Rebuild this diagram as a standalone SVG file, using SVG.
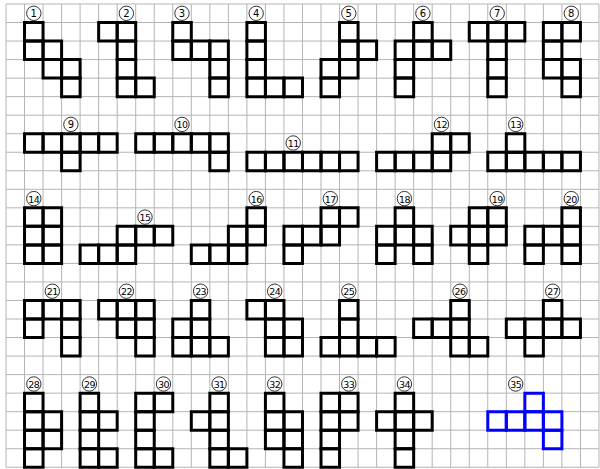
<svg xmlns="http://www.w3.org/2000/svg" xmlns:xlink="http://www.w3.org/1999/xlink" width="600" height="469" viewBox="0 0 600 469">
<style>
.grid{fill:none;stroke:#b4b4b4;stroke-width:1;vector-effect:non-scaling-stroke}
.c rect{fill:none;stroke:#000;stroke-width:3;vector-effect:non-scaling-stroke}
.blue rect{stroke:#0000ff}
.lc{fill:#fff;stroke:#000;stroke-width:0.8}
.lt{font-family:"DejaVu Sans",Verdana,sans-serif;font-size:10px;text-anchor:middle;dominant-baseline:central;fill:#000}
.lt2{font-size:9.5px;letter-spacing:-0.6px}
</style>
<rect x="0" y="0" width="600" height="469" fill="#fff"/>
<g transform="translate(6,4) scale(18.53)">
<path class="grid" d="M0 0v25M1 0v25M2 0v25M3 0v25M4 0v25M5 0v25M6 0v25M7 0v25M8 0v25M9 0v25M10 0v25M11 0v25M12 0v25M13 0v25M14 0v25M15 0v25M16 0v25M17 0v25M18 0v25M19 0v25M20 0v25M21 0v25M22 0v25M23 0v25M24 0v25M25 0v25M26 0v25M27 0v25M28 0v25M29 0v25M30 0v25M31 0v25M32 0v25M0 0h32M0 1h32M0 2h32M0 3h32M0 4h32M0 5h32M0 6h32M0 7h32M0 8h32M0 9h32M0 10h32M0 11h32M0 12h32M0 13h32M0 14h32M0 15h32M0 16h32M0 17h32M0 18h32M0 19h32M0 20h32M0 21h32M0 22h32M0 23h32M0 24h32M0 25h32"/>
</g>
<defs><rect id="s" width="1" height="1"/></defs>

<g id="p1"><g class="c" transform="translate(6,4) scale(18.53)"><rect x="1" y="1" width="1" height="1"/><rect x="1" y="2" width="1" height="1"/><rect x="2" y="2" width="1" height="1"/><rect x="2" y="3" width="1" height="1"/><rect x="3" y="3" width="1" height="1"/><rect x="3" y="4" width="1" height="1"/></g><circle class="lc" cx="33.8" cy="13.3" r="7.2"/><text class="lt" x="33.8" y="13.8">1</text></g>
<g id="p2"><g class="c" transform="translate(6,4) scale(18.53)"><rect x="5" y="1" width="1" height="1"/><rect x="6" y="1" width="1" height="1"/><rect x="6" y="2" width="1" height="1"/><rect x="6" y="3" width="1" height="1"/><rect x="6" y="4" width="1" height="1"/><rect x="7" y="4" width="1" height="1"/></g><circle class="lc" cx="126.4" cy="13.3" r="7.2"/><text class="lt" x="126.4" y="13.8">2</text></g>
<g id="p3"><g class="c" transform="translate(6,4) scale(18.53)"><rect x="9" y="1" width="1" height="1"/><rect x="9" y="2" width="1" height="1"/><rect x="10" y="2" width="1" height="1"/><rect x="11" y="2" width="1" height="1"/><rect x="11" y="3" width="1" height="1"/><rect x="11" y="4" width="1" height="1"/></g><circle class="lc" cx="182" cy="13.3" r="7.2"/><text class="lt" x="182" y="13.8">3</text></g>
<g id="p4"><g class="c" transform="translate(6,4) scale(18.53)"><rect x="13" y="1" width="1" height="1"/><rect x="13" y="2" width="1" height="1"/><rect x="13" y="3" width="1" height="1"/><rect x="13" y="4" width="1" height="1"/><rect x="14" y="4" width="1" height="1"/><rect x="15" y="4" width="1" height="1"/></g><circle class="lc" cx="256.2" cy="13.3" r="7.2"/><text class="lt" x="256.2" y="13.8">4</text></g>
<g id="p5"><g class="c" transform="translate(6,4) scale(18.53)"><rect x="18" y="1" width="1" height="1"/><rect x="18" y="2" width="1" height="1"/><rect x="19" y="2" width="1" height="1"/><rect x="17" y="3" width="1" height="1"/><rect x="18" y="3" width="1" height="1"/><rect x="17" y="4" width="1" height="1"/></g><circle class="lc" cx="348.8" cy="13.3" r="7.2"/><text class="lt" x="348.8" y="13.8">5</text></g>
<g id="p6"><g class="c" transform="translate(6,4) scale(18.53)"><rect x="22" y="1" width="1" height="1"/><rect x="21" y="2" width="1" height="1"/><rect x="22" y="2" width="1" height="1"/><rect x="23" y="2" width="1" height="1"/><rect x="21" y="3" width="1" height="1"/><rect x="21" y="4" width="1" height="1"/></g><circle class="lc" cx="422.9" cy="13.3" r="7.2"/><text class="lt" x="422.9" y="13.8">6</text></g>
<g id="p7"><g class="c" transform="translate(6,4) scale(18.53)"><rect x="25" y="1" width="1" height="1"/><rect x="26" y="1" width="1" height="1"/><rect x="27" y="1" width="1" height="1"/><rect x="26" y="2" width="1" height="1"/><rect x="26" y="3" width="1" height="1"/><rect x="26" y="4" width="1" height="1"/></g><circle class="lc" cx="497.2" cy="13.3" r="7.2"/><text class="lt" x="497.2" y="13.8">7</text></g>
<g id="p8"><g class="c" transform="translate(6,4) scale(18.53)"><rect x="29" y="1" width="1" height="1"/><rect x="30" y="1" width="1" height="1"/><rect x="29" y="2" width="1" height="1"/><rect x="29" y="3" width="1" height="1"/><rect x="30" y="3" width="1" height="1"/><rect x="30" y="4" width="1" height="1"/></g><circle class="lc" cx="571.3" cy="13.3" r="7.2"/><text class="lt" x="571.3" y="13.8">8</text></g>

<g id="p9"><g class="c" transform="translate(6,4) scale(18.53)"><rect x="1" y="7" width="1" height="1"/><rect x="2" y="7" width="1" height="1"/><rect x="3" y="7" width="1" height="1"/><rect x="4" y="7" width="1" height="1"/><rect x="5" y="7" width="1" height="1"/><rect x="3" y="8" width="1" height="1"/></g><circle class="lc" cx="70.9" cy="124.4" r="7.2"/><text class="lt" x="70.9" y="124.9">9</text></g>
<g id="p10"><g class="c" transform="translate(6,4) scale(18.53)"><rect x="7" y="7" width="1" height="1"/><rect x="8" y="7" width="1" height="1"/><rect x="9" y="7" width="1" height="1"/><rect x="10" y="7" width="1" height="1"/><rect x="11" y="7" width="1" height="1"/><rect x="11" y="8" width="1" height="1"/></g><circle class="lc" cx="182" cy="124.4" r="7.2"/><text class="lt lt2" x="182" y="124.9">10</text></g>
<g id="p11"><g class="c" transform="translate(6,4) scale(18.53)"><rect x="13" y="8" width="1" height="1"/><rect x="14" y="8" width="1" height="1"/><rect x="15" y="8" width="1" height="1"/><rect x="16" y="8" width="1" height="1"/><rect x="17" y="8" width="1" height="1"/><rect x="18" y="8" width="1" height="1"/></g><circle class="lc" cx="293.2" cy="143" r="7.2"/><text class="lt lt2" x="293.2" y="143.5">11</text></g>
<g id="p12"><g class="c" transform="translate(6,4) scale(18.53)"><rect x="23" y="7" width="1" height="1"/><rect x="24" y="7" width="1" height="1"/><rect x="20" y="8" width="1" height="1"/><rect x="21" y="8" width="1" height="1"/><rect x="22" y="8" width="1" height="1"/><rect x="23" y="8" width="1" height="1"/></g><circle class="lc" cx="441.5" cy="124.4" r="7.2"/><text class="lt lt2" x="441.5" y="124.9">12</text></g>
<g id="p13"><g class="c" transform="translate(6,4) scale(18.53)"><rect x="27" y="7" width="1" height="1"/><rect x="26" y="8" width="1" height="1"/><rect x="27" y="8" width="1" height="1"/><rect x="28" y="8" width="1" height="1"/><rect x="29" y="8" width="1" height="1"/><rect x="30" y="8" width="1" height="1"/></g><circle class="lc" cx="515.7" cy="124.4" r="7.2"/><text class="lt lt2" x="515.7" y="124.9">13</text></g>

<g id="p14"><g class="c" transform="translate(6,4) scale(18.53)"><rect x="1" y="11" width="1" height="1"/><rect x="2" y="11" width="1" height="1"/><rect x="1" y="12" width="1" height="1"/><rect x="2" y="12" width="1" height="1"/><rect x="1" y="13" width="1" height="1"/><rect x="2" y="13" width="1" height="1"/></g><circle class="lc" cx="33.8" cy="198.6" r="7.2"/><text class="lt lt2" x="33.8" y="199.1">14</text></g>
<g id="p15"><g class="c" transform="translate(6,4) scale(18.53)"><rect x="6" y="12" width="1" height="1"/><rect x="7" y="12" width="1" height="1"/><rect x="8" y="12" width="1" height="1"/><rect x="4" y="13" width="1" height="1"/><rect x="5" y="13" width="1" height="1"/><rect x="6" y="13" width="1" height="1"/></g><circle class="lc" cx="145" cy="217.1" r="7.2"/><text class="lt lt2" x="145" y="217.6">15</text></g>
<g id="p16"><g class="c" transform="translate(6,4) scale(18.53)"><rect x="13" y="11" width="1" height="1"/><rect x="12" y="12" width="1" height="1"/><rect x="13" y="12" width="1" height="1"/><rect x="10" y="13" width="1" height="1"/><rect x="11" y="13" width="1" height="1"/><rect x="12" y="13" width="1" height="1"/></g><circle class="lc" cx="256.2" cy="198.6" r="7.2"/><text class="lt lt2" x="256.2" y="199.1">16</text></g>
<g id="p17"><g class="c" transform="translate(6,4) scale(18.53)"><rect x="17" y="11" width="1" height="1"/><rect x="18" y="11" width="1" height="1"/><rect x="15" y="12" width="1" height="1"/><rect x="16" y="12" width="1" height="1"/><rect x="17" y="12" width="1" height="1"/><rect x="15" y="13" width="1" height="1"/></g><circle class="lc" cx="330.3" cy="198.6" r="7.2"/><text class="lt lt2" x="330.3" y="199.1">17</text></g>
<g id="p18"><g class="c" transform="translate(6,4) scale(18.53)"><rect x="21" y="11" width="1" height="1"/><rect x="20" y="12" width="1" height="1"/><rect x="21" y="12" width="1" height="1"/><rect x="22" y="12" width="1" height="1"/><rect x="20" y="13" width="1" height="1"/><rect x="22" y="13" width="1" height="1"/></g><circle class="lc" cx="404.4" cy="198.6" r="7.2"/><text class="lt lt2" x="404.4" y="199.1">18</text></g>
<g id="p19"><g class="c" transform="translate(6,4) scale(18.53)"><rect x="25" y="11" width="1" height="1"/><rect x="26" y="11" width="1" height="1"/><rect x="24" y="12" width="1" height="1"/><rect x="25" y="12" width="1" height="1"/><rect x="26" y="12" width="1" height="1"/><rect x="25" y="13" width="1" height="1"/></g><circle class="lc" cx="497.2" cy="198.6" r="7.2"/><text class="lt lt2" x="497.2" y="199.1">19</text></g>
<g id="p20"><g class="c" transform="translate(6,4) scale(18.53)"><rect x="30" y="11" width="1" height="1"/><rect x="28" y="12" width="1" height="1"/><rect x="29" y="12" width="1" height="1"/><rect x="30" y="12" width="1" height="1"/><rect x="28" y="13" width="1" height="1"/><rect x="30" y="13" width="1" height="1"/></g><circle class="lc" cx="571.3" cy="198.6" r="7.2"/><text class="lt lt2" x="571.3" y="199.1">20</text></g>

<g id="p21"><g class="c" transform="translate(6,4) scale(18.53)"><rect x="1" y="16" width="1" height="1"/><rect x="2" y="16" width="1" height="1"/><rect x="3" y="16" width="1" height="1"/><rect x="1" y="17" width="1" height="1"/><rect x="3" y="17" width="1" height="1"/><rect x="3" y="18" width="1" height="1"/></g><circle class="lc" cx="52.3" cy="291.2" r="7.2"/><text class="lt lt2" x="52.3" y="291.7">21</text></g>
<g id="p22"><g class="c" transform="translate(6,4) scale(18.53)"><rect x="5" y="16" width="1" height="1"/><rect x="6" y="16" width="1" height="1"/><rect x="7" y="16" width="1" height="1"/><rect x="6" y="17" width="1" height="1"/><rect x="7" y="17" width="1" height="1"/><rect x="7" y="18" width="1" height="1"/></g><circle class="lc" cx="126.4" cy="291.2" r="7.2"/><text class="lt lt2" x="126.4" y="291.7">22</text></g>
<g id="p23"><g class="c" transform="translate(6,4) scale(18.53)"><rect x="10" y="16" width="1" height="1"/><rect x="9" y="17" width="1" height="1"/><rect x="10" y="17" width="1" height="1"/><rect x="9" y="18" width="1" height="1"/><rect x="10" y="18" width="1" height="1"/><rect x="11" y="18" width="1" height="1"/></g><circle class="lc" cx="200.6" cy="291.2" r="7.2"/><text class="lt lt2" x="200.6" y="291.7">23</text></g>
<g id="p24"><g class="c" transform="translate(6,4) scale(18.53)"><rect x="13" y="16" width="1" height="1"/><rect x="14" y="16" width="1" height="1"/><rect x="14" y="17" width="1" height="1"/><rect x="15" y="17" width="1" height="1"/><rect x="14" y="18" width="1" height="1"/><rect x="15" y="18" width="1" height="1"/></g><circle class="lc" cx="274.7" cy="291.2" r="7.2"/><text class="lt lt2" x="274.7" y="291.7">24</text></g>
<g id="p25"><g class="c" transform="translate(6,4) scale(18.53)"><rect x="18" y="16" width="1" height="1"/><rect x="18" y="17" width="1" height="1"/><rect x="17" y="18" width="1" height="1"/><rect x="18" y="18" width="1" height="1"/><rect x="19" y="18" width="1" height="1"/><rect x="20" y="18" width="1" height="1"/></g><circle class="lc" cx="348.8" cy="291.2" r="7.2"/><text class="lt lt2" x="348.8" y="291.7">25</text></g>
<g id="p26"><g class="c" transform="translate(6,4) scale(18.53)"><rect x="24" y="16" width="1" height="1"/><rect x="22" y="17" width="1" height="1"/><rect x="23" y="17" width="1" height="1"/><rect x="24" y="17" width="1" height="1"/><rect x="24" y="18" width="1" height="1"/><rect x="25" y="18" width="1" height="1"/></g><circle class="lc" cx="460" cy="291.2" r="7.2"/><text class="lt lt2" x="460" y="291.7">26</text></g>
<g id="p27"><g class="c" transform="translate(6,4) scale(18.53)"><rect x="29" y="16" width="1" height="1"/><rect x="27" y="17" width="1" height="1"/><rect x="28" y="17" width="1" height="1"/><rect x="29" y="17" width="1" height="1"/><rect x="30" y="17" width="1" height="1"/><rect x="28" y="18" width="1" height="1"/></g><circle class="lc" cx="552.7" cy="291.2" r="7.2"/><text class="lt lt2" x="552.7" y="291.7">27</text></g>

<g id="p28"><g class="c" transform="translate(6,4) scale(18.53)"><rect x="1" y="21" width="1" height="1"/><rect x="1" y="22" width="1" height="1"/><rect x="2" y="22" width="1" height="1"/><rect x="1" y="23" width="1" height="1"/><rect x="2" y="23" width="1" height="1"/><rect x="1" y="24" width="1" height="1"/></g><circle class="lc" cx="33.8" cy="384" r="7.2"/><text class="lt lt2" x="33.8" y="384.5">28</text></g>
<g id="p29"><g class="c" transform="translate(6,4) scale(18.53)"><rect x="4" y="21" width="1" height="1"/><rect x="4" y="22" width="1" height="1"/><rect x="5" y="22" width="1" height="1"/><rect x="4" y="23" width="1" height="1"/><rect x="4" y="24" width="1" height="1"/><rect x="5" y="24" width="1" height="1"/></g><circle class="lc" cx="89.4" cy="384" r="7.2"/><text class="lt lt2" x="89.4" y="384.5">29</text></g>
<g id="p30"><g class="c" transform="translate(6,4) scale(18.53)"><rect x="7" y="21" width="1" height="1"/><rect x="8" y="21" width="1" height="1"/><rect x="7" y="22" width="1" height="1"/><rect x="7" y="23" width="1" height="1"/><rect x="7" y="24" width="1" height="1"/><rect x="8" y="24" width="1" height="1"/></g><circle class="lc" cx="163.5" cy="384" r="7.2"/><text class="lt lt2" x="163.5" y="384.5">30</text></g>
<g id="p31"><g class="c" transform="translate(6,4) scale(18.53)"><rect x="11" y="21" width="1" height="1"/><rect x="10" y="22" width="1" height="1"/><rect x="11" y="22" width="1" height="1"/><rect x="11" y="23" width="1" height="1"/><rect x="11" y="24" width="1" height="1"/><rect x="12" y="24" width="1" height="1"/></g><circle class="lc" cx="219.1" cy="384" r="7.2"/><text class="lt lt2" x="219.1" y="384.5">31</text></g>
<g id="p32"><g class="c" transform="translate(6,4) scale(18.53)"><rect x="14" y="21" width="1" height="1"/><rect x="14" y="22" width="1" height="1"/><rect x="15" y="22" width="1" height="1"/><rect x="14" y="23" width="1" height="1"/><rect x="15" y="23" width="1" height="1"/><rect x="15" y="24" width="1" height="1"/></g><circle class="lc" cx="274.7" cy="384" r="7.2"/><text class="lt lt2" x="274.7" y="384.5">32</text></g>
<g id="p33"><g class="c" transform="translate(6,4) scale(18.53)"><rect x="17" y="21" width="1" height="1"/><rect x="18" y="21" width="1" height="1"/><rect x="17" y="22" width="1" height="1"/><rect x="18" y="22" width="1" height="1"/><rect x="17" y="23" width="1" height="1"/><rect x="17" y="24" width="1" height="1"/></g><circle class="lc" cx="348.8" cy="384" r="7.2"/><text class="lt lt2" x="348.8" y="384.5">33</text></g>
<g id="p34"><g class="c" transform="translate(6,4) scale(18.53)"><rect x="21" y="21" width="1" height="1"/><rect x="20" y="22" width="1" height="1"/><rect x="21" y="22" width="1" height="1"/><rect x="22" y="22" width="1" height="1"/><rect x="21" y="23" width="1" height="1"/><rect x="21" y="24" width="1" height="1"/></g><circle class="lc" cx="404.4" cy="384" r="7.2"/><text class="lt lt2" x="404.4" y="384.5">34</text></g>
<g id="p35"><g class="c blue" transform="translate(6,4) scale(18.53)"><rect x="28" y="21" width="1" height="1"/><rect x="26" y="22" width="1" height="1"/><rect x="27" y="22" width="1" height="1"/><rect x="28" y="22" width="1" height="1"/><rect x="29" y="22" width="1" height="1"/><rect x="29" y="23" width="1" height="1"/></g><circle class="lc" cx="515.7" cy="384" r="7.2"/><text class="lt lt2" x="515.7" y="384.5">35</text></g>
</svg>
